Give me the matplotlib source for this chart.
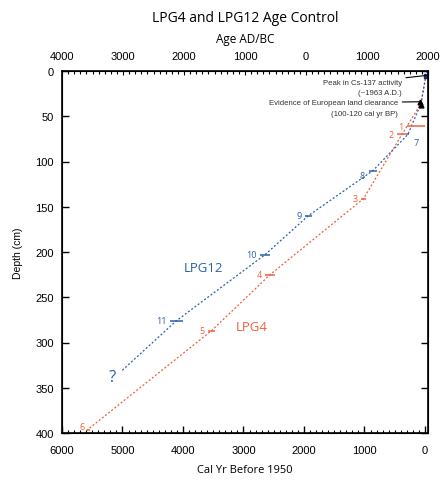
import matplotlib
matplotlib.use("Agg")
import matplotlib.pyplot as plt
from matplotlib.ticker import MultipleLocator, FuncFormatter

# ---- data ----
# LPG4 (red) age-depth line: cal yr BP, depth (cm)
red_line_age = [-40, -13, 66, 380, 1016, 2560, 3530, 5590]
red_line_depth = [0, 6, 36, 70, 141, 225, 287, 397]
# LPG12 (blue) age-depth line
blue_line_age = [-40, -13, 66, 281, 860, 1930, 2645, 4110, 5008]
blue_line_depth = [0, 6, 36, 70, 110, 160, 203, 276, 331]

# dated samples
red_ids = ["1", "2", "3", "4", "5", "6"]
red_age = [150, 380, 1016, 2560, 3530, 5560]
red_err = [150, 80, 40, 80, 60, 30]
red_depth = [61, 70, 141, 225, 287, 397]

blue_ids = ["7", "8", "9", "10", "11"]
blue_age = [281, 860, 1930, 2645, 4110]
blue_err = [15, 65, 55, 80, 105]
blue_depth = [70, 110, 160, 203, 276]

# markers: Cs-137 peak and European land clearance
cs_age = [-13]
cs_depth = [6]
clear_age = [80, 66]
clear_depth = [34, 38]

RED = "#f0603c"
BLUE = "#2d5fad"
TICKFONT = "Liberation Sans"
TXTFONT = "Open Sans"

fig = plt.figure(figsize=(4.41, 4.81), dpi=100)
ax = fig.add_axes([62 / 441, 1 - 434 / 481, 366 / 441, 362 / 481])

ls = (0, (1.6, 1.6))
ax.plot(red_line_age, red_line_depth, color=RED, lw=0.9, linestyle=ls)
ax.plot(blue_line_age, blue_line_depth, color=BLUE, lw=0.9, linestyle=ls)

ax.errorbar(red_age, red_depth, xerr=red_err, fmt="none", ecolor=RED,
            elinewidth=1.1, capsize=0)
ax.errorbar(blue_age, blue_depth, xerr=blue_err, fmt="none", ecolor=BLUE,
            elinewidth=1.1, capsize=0)

# sample labels
for lab, a, e, d in zip(red_ids, red_age, red_err, red_depth):
    off = (-3, 0)
    if lab == "6":
        off = (-2, 4)
    ax.annotate(lab, xy=(a + e, d), xytext=off, textcoords="offset pixels",
                ha="right", va="center", color=RED, fontsize=6.5,
                family=TXTFONT)
for lab, a, e, d in zip(blue_ids, blue_age, blue_err, blue_depth):
    off, ha = (-3, 0), "right"
    if lab == "7":
        off, ha = (9, -8), "center"
    elif lab == "8":
        off = (-4, -5)
    ax.annotate(lab, xy=(a + e, d), xytext=off, textcoords="offset pixels",
                ha=ha, va="center", color=BLUE, fontsize=6.5, family=TXTFONT)

ax.plot(cs_age, cs_depth, marker="s", ms=2.5, color="#1f2a60", ls="none")
ax.plot(clear_age, clear_depth, marker="^", ms=3.5, color="black", ls="none")

# text annotations
NOTE = "#333333"
ax.annotate("Peak in Cs-137 activity", xy=(cs_age[0], 5),
            xytext=(-24, -7), textcoords="offset pixels", ha="right",
            va="center", fontsize=5.6, family=TICKFONT, color=NOTE,
            arrowprops=dict(arrowstyle="-", color="black", lw=0.8,
                            shrinkA=1, shrinkB=0))
ax.text(380, 24, "(~1963 A.D.)", ha="right", va="center", fontsize=5.6,
        family=TICKFONT, color=NOTE)
ax.annotate("Evidence of European land clearance", xy=(clear_age[0], clear_depth[0]),
            xytext=(-22, -1), textcoords="offset pixels", ha="right",
            va="center", fontsize=5.6, family=TICKFONT, color=NOTE,
            arrowprops=dict(arrowstyle="-", color="black", lw=0.8,
                            shrinkA=1, shrinkB=0))
ax.text(450, 46.5, "(100-120 cal yr BP)", ha="right", va="center",
        fontsize=5.6, family=TICKFONT, color=NOTE)

ax.text(3660, 217, "LPG12", color=BLUE, fontsize=9.5, family=TXTFONT,
        ha="center", va="center")
ax.text(2870, 282, "LPG4", color=RED, fontsize=9.5, family=TXTFONT,
        ha="center", va="center")
ax.text(5170, 338, "?", color=BLUE, fontsize=12, family=TXTFONT,
        ha="center", va="center")

# axes
ax.set_xlim(6000, -50)
ax.set_ylim(400, 0)
ax.xaxis.set_major_locator(MultipleLocator(1000))
ax.xaxis.set_minor_locator(MultipleLocator(100))
ax.yaxis.set_major_locator(MultipleLocator(50))
ax.tick_params(axis="x", which="major", direction="in", length=5, width=1,
               labelsize=8, pad=9)
ax.tick_params(axis="x", which="minor", direction="in", length=2.5, width=0.8)
ax.tick_params(axis="y", which="major", direction="in", length=5, width=1,
               labelsize=8, right=True, pad=6)
for lab in ax.get_xticklabels() + ax.get_yticklabels():
    lab.set_family(TICKFONT)
for s in ax.spines.values():
    s.set_linewidth(1.2)

ax.set_xlabel("Cal Yr Before 1950", fontsize=8, family=TXTFONT, labelpad=6)
ax.set_ylabel("Depth (cm)", fontsize=7.5, family=TICKFONT, labelpad=9)

top = ax.twiny()
top.set_xlim(-4000, 2000)
top.xaxis.set_major_locator(MultipleLocator(1000))
top.xaxis.set_minor_locator(MultipleLocator(100))
top.xaxis.set_major_formatter(FuncFormatter(lambda v, p: f"{abs(int(round(v)))}"))
top.tick_params(axis="x", which="major", direction="in", length=3, width=0.8,
                labelsize=8, pad=7)
top.tick_params(axis="x", which="minor", direction="in", length=2.5, width=0.8)
for lab in top.get_xticklabels():
    lab.set_family(TICKFONT)
top.set_xlabel("Age AD/BC", fontsize=8.5, family=TXTFONT, labelpad=7)

fig.text(245 / 441, 1 - 18 / 481, "LPG4 and LPG12 Age Control", ha="center",
         va="center", fontsize=10, family=TXTFONT)

fig.savefig("out.png", dpi=100)
